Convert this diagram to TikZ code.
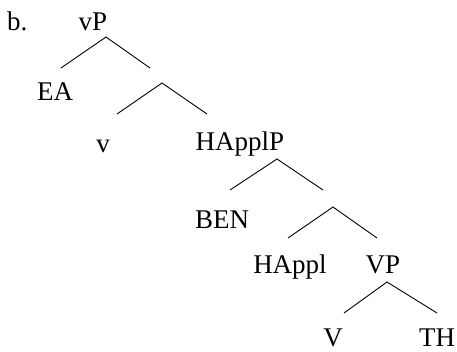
\documentclass[tikz,border=0pt]{standalone}
\usepackage{fontspec}
\setmainfont{Liberation Serif}
\begin{document}
\begin{tikzpicture}[x=1pt,y=-1pt,
  lab/.style={anchor=base,inner sep=0pt,font=\fontsize{27}{30}\selectfont},
  br/.style={line width=0.9pt}]
\useasboundingbox (0,0) rectangle (457,351);
% labels
\node[lab,anchor=base west] (b) at (7,30) {b.};
\node[lab] (vP) at (93,30) {vP};
\node[lab] (EA) at (55,100) {EA};
\node[lab] (v) at (103,152) {v};
\node[lab] (HApplP) at (240,150) {HApplP};
\node[lab] (BEN) at (222,228) {BEN};
\node[lab] (HAppl) at (290,273) {HAppl};
\node[lab] (VP) at (383,273) {VP};
\node[lab] (V) at (333,346) {V};
\node[lab] (TH) at (437,346) {TH};
% branch points
\coordinate (a1) at (106,37);  \coordinate (l1) at (61,68);   \coordinate (r1) at (150,68);
\coordinate (a2) at (162,83);  \coordinate (l2) at (117,114); \coordinate (r2) at (207,114);
\coordinate (a3) at (277,159); \coordinate (l3) at (230,190); \coordinate (r3) at (323,190);
\coordinate (a4) at (333,207); \coordinate (l4) at (288,238); \coordinate (r4) at (377,238);
\coordinate (a5) at (387,282); \coordinate (l5) at (344,313); \coordinate (r5) at (437,313);
\draw[br] (l1) -- (a1) -- (r1);
\draw[br] (l2) -- (a2) -- (r2);
\draw[br] (l3) -- (a3) -- (r3);
\draw[br] (l4) -- (a4) -- (r4);
\draw[br] (l5) -- (a5) -- (r5);
\end{tikzpicture}
\end{document}
